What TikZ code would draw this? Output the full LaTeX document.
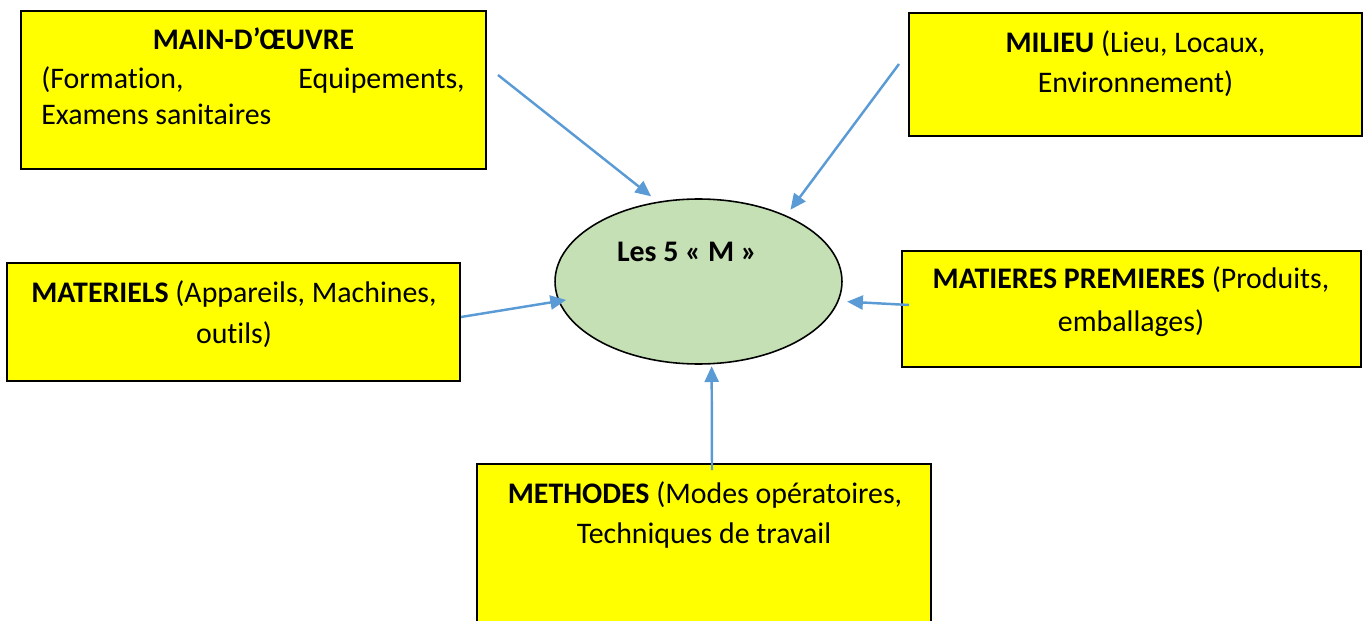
\documentclass[tikz,border=0pt]{standalone}
\usepackage{fontspec}
\setmainfont{Carlito}[Ligatures=NoCommon]
\usepackage{xcolor}
\usetikzlibrary{shapes,arrows.meta,positioning,calc}
\definecolor{boxyellow}{RGB}{255,255,0}
\definecolor{ovalgreen}{RGB}{197,224,180}
\definecolor{arrowblue}{RGB}{91,155,213}
\tikzset{
    mbox/.style={draw=black, line width=0.9pt, fill=boxyellow, minimum width=#1, inner sep=0pt},
    txt/.style={anchor=base, inner sep=0pt, font=\fontsize{17}{20}\selectfont},
    link/.style={arrowblue, line width=1.4pt, -{Triangle[length=9pt,width=8pt]}}
}

\begin{document}
\begin{tikzpicture}[x=0.02cm, y=-0.02cm]
    \useasboundingbox (0,0) rectangle (1364,621);

    % Boxes
    \node[mbox=9.3cm, minimum height=3.16cm] (main) at (253.5,90) {};
    \node[mbox=9.06cm, minimum height=2.46cm] (milieu) at (1135.5,74.5) {};
    \node[mbox=9.06cm, minimum height=2.36cm] (materiels) at (233.5,322) {};
    \node[mbox=9.18cm, minimum height=2.32cm] (matieres) at (1131.5,309) {};
    \node[mbox=9.08cm, minimum height=3.6cm] (methodes) at (704,554) {};

    % Centre
    \node[ellipse, draw=black, line width=0.9pt, fill=ovalgreen, minimum width=5.74cm, minimum height=3.3cm, inner sep=0pt] (el) at (698.5,281.5) {};
    \node[txt] (titre) at (687,261.5) {\textbf{Les 5 « M »}};

    % Texts
    \node[txt] (mainA) at (253.5,49.5) {\textbf{MAIN-D’ŒUVRE}};
    \node[txt, anchor=base west] (mainB) at (41,88.5) {(Formation,};
    \node[txt, anchor=base east] (mainC) at (465,88.5) {Equipements,};
    \node[txt, anchor=base west] (mainD) at (41,124.5) {Examens sanitaires};

    \node[txt] (milieuA) at (1135.5,52.5) {\textbf{MILIEU} (Lieu, Locaux,};
    \node[txt] (milieuB) at (1135.5,92.5) {Environnement)};

    \node[txt] (materielsA) at (234,302.5) {\textbf{MATERIELS} (Appareils, Machines,};
    \node[txt] (materielsB) at (234,343.5) {outils)};

    \node[txt] (matieresA) at (1131,288.5) {\textbf{MATIERES PREMIERES} (Produits,};
    \node[txt] (matieresB) at (1131,331) {emballages)};

    \node[txt] (methodesA) at (705,503.5) {\textbf{METHODES} (Modes opératoires,};
    \node[txt] (methodesB) at (704,543.5) {Techniques de travail};

    % Arrows
    \coordinate (s1) at (498,75);
    \coordinate (s2) at (899,64);
    \coordinate (s3) at (461,317);
    \coordinate (s4) at (909,305);
    \coordinate (s5) at (712,470);
    \draw[link, shorten >=4.8pt] (s1) -- (el.117);
    \draw[link, shorten >=4pt] (s2) -- (el.37);
    \draw[link, shorten >=-4.5pt] (s3) -- (el.188);
    \draw[link, shorten >=4.8pt] (s4) -- (el.-8);
    \draw[link, shorten >=1pt] (s5) -- (el.-81);
\end{tikzpicture}
\end{document}
